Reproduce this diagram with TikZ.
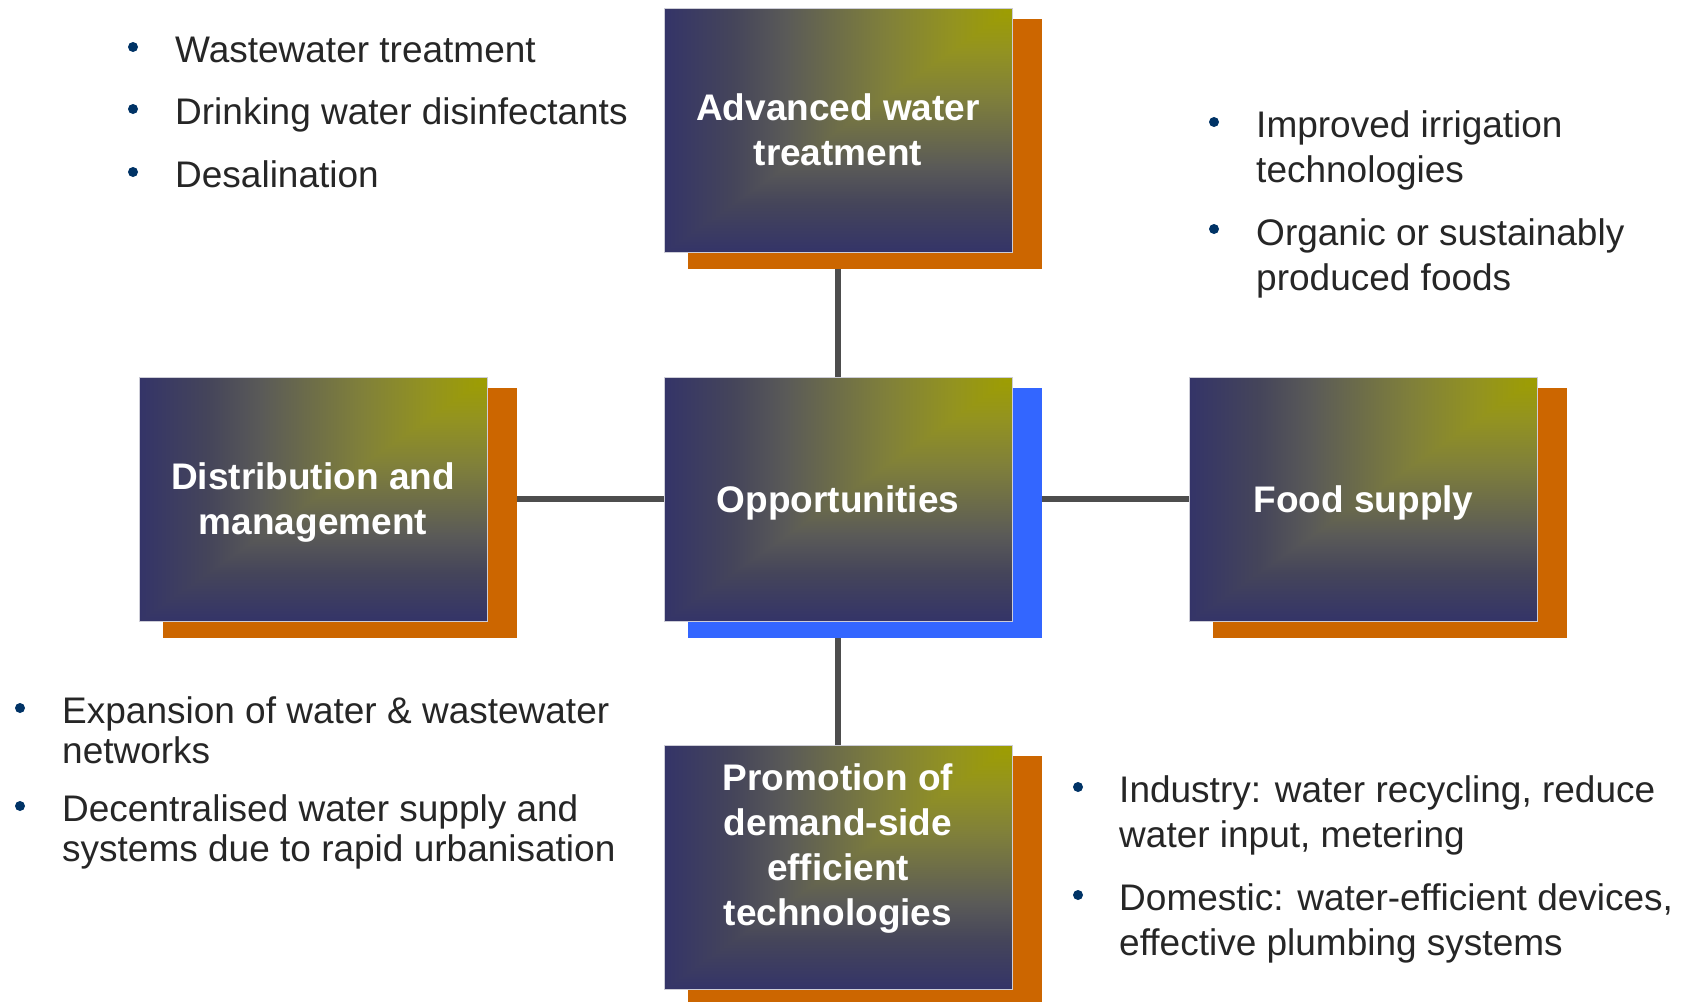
\documentclass[tikz,border=0pt]{standalone}
\usepackage{fontspec}
\setmainfont{Liberation Sans}
\usetikzlibrary{backgrounds}
\definecolor{navyc}{RGB}{52,52,104}
\definecolor{olivec}{RGB}{158,158,0}
\definecolor{rampa}{RGB}{69,69,90}
\definecolor{rampb}{RGB}{90,90,88}
\definecolor{rampc}{RGB}{110,110,72}
\definecolor{rampd}{RGB}{128,128,58}
\definecolor{rampe}{RGB}{147,147,32}
\definecolor{orangec}{RGB}{204,102,0}
\definecolor{bluec}{RGB}{51,102,255}
\definecolor{linec}{RGB}{77,77,77}
\definecolor{textc}{RGB}{38,38,38}
\definecolor{bulletc}{RGB}{0,51,102}
\definecolor{boxedge}{RGB}{205,205,215}
\pgfdeclarehorizontalshading{hramp}{100bp}{color(0bp)=(navyc); color(25bp)=(navyc);
  color(35bp)=(rampa); color(42.5bp)=(rampb); color(50bp)=(rampc); color(57bp)=(rampd);
  color(66.5bp)=(rampe); color(75bp)=(olivec); color(100bp)=(olivec)}
\pgfdeclareverticalshading{vramp}{100bp}{color(0bp)=(navyc); color(25bp)=(navyc);
  color(35bp)=(rampa); color(42.5bp)=(rampb); color(50bp)=(rampc); color(57bp)=(rampd);
  color(66.5bp)=(rampe); color(75bp)=(olivec); color(100bp)=(olivec)}
\tikzset{
  gbox/.style={rectangle, minimum width=348pt, minimum height=244pt, inner sep=0pt,
    draw=boxedge, line width=1pt, text=white, align=center, text depth=-3pt,
    font=\bfseries\fontsize{37}{45}\selectfont,
    path picture={
      \shade[shading=vramp]
        (path picture bounding box.south west) rectangle (path picture bounding box.north east);
      \begin{scope}
        \clip (path picture bounding box.north west) -- (path picture bounding box.north east)
              -- (path picture bounding box.south west) -- cycle;
        \shade[shading=hramp]
          (path picture bounding box.south west) rectangle (path picture bounding box.north east);
      \end{scope}
    }},
  dot/.style={circle, fill=bulletc, inner sep=0pt, minimum size=10pt},
  item/.style={anchor=base west, align=left, text=textc, inner sep=0pt,
    font=\fontsize{37}{45}\selectfont},
  itemtight/.style={item, font=\fontsize{37}{40}\selectfont},
  link/.style={draw=linec, line width=6pt},
  shadoworange/.style={fill=orangec},
  shadowblue/.style={fill=bluec}
}
\begin{document}
\begin{tikzpicture}[x=1pt, y=-1pt]
\useasboundingbox (0,0) rectangle (1688,1001);

% boxes
\node[gbox] (adv)  at (838,130)   {Advanced water\\treatment};
\node[gbox] (opp)  at (838,499)   {Opportunities};
\node[gbox] (prom) at (838,867)   {Promotion of\\demand-side\\efficient\\technologies\\\rule{0pt}{0pt}};
\node[gbox] (dist) at (313,499)   {Distribution and\\management};
\node[gbox] (food) at (1363.5,499) {Food supply};

% top-left list
\node[dot] (d1) at (133,47) {};
\node[item] (t1) at (175,62) {Wastewater treatment};
\node[dot] (d2) at (133,109) {};
\node[item] (t2) at (175,124) {Drinking water disinfectants};
\node[dot] (d3) at (133,172) {};
\node[item] (t3) at (175,187) {Desalination};

% top-right list (anchor = baseline of last line)
\node[dot] (d4) at (1214,122) {};
\node[item] (t4) at (1256,182) {Improved irrigation\\technologies};
\node[dot] (d5) at (1214,229) {};
\node[item] (t5) at (1256,290) {Organic or sustainably\\produced foods};

% bottom-left list
\node[dot] (d6) at (20,708) {};
\node[itemtight] (t6) at (62,763) {Expansion of water \& wastewater\\networks};
\node[dot] (d7) at (20,806) {};
\node[itemtight] (t7) at (62,861) {Decentralised water supply and\\systems due to rapid urbanisation};

% bottom-right list
\node[dot] (d8) at (1078,787) {};
\node[item] (t8) at (1119,847) {Industry: water recycling, reduce\\water input, metering};
\node[dot] (d9) at (1078,895) {};
\node[item] (t9) at (1119,955) {Domestic: water-efficient devices,\\effective plumbing systems};

\begin{scope}[on background layer]
  \fill[white] (0,0) rectangle (1688,1001);
  % connectors
  \draw[link] (adv.south) -- (opp.north);
  \draw[link] (opp.south) -- (prom.north);
  \draw[link] (dist.east) -- (opp.west);
  \draw[link] (opp.east) -- (food.west);
  % shadows
  \fill[shadoworange] ([xshift=24pt,yshift=-11pt]adv.north west) rectangle ([xshift=29pt,yshift=-16pt]adv.south east);
  \fill[shadowblue]   ([xshift=24pt,yshift=-11pt]opp.north west) rectangle ([xshift=29pt,yshift=-16pt]opp.south east);
  \fill[shadoworange] ([xshift=24pt,yshift=-11pt]prom.north west) rectangle ([xshift=29pt,yshift=-16pt]prom.south east);
  \fill[shadoworange] ([xshift=24pt,yshift=-11pt]dist.north west) rectangle ([xshift=29pt,yshift=-16pt]dist.south east);
  \fill[shadoworange] ([xshift=24pt,yshift=-11pt]food.north west) rectangle ([xshift=29pt,yshift=-16pt]food.south east);
\end{scope}
\end{tikzpicture}
\end{document}
